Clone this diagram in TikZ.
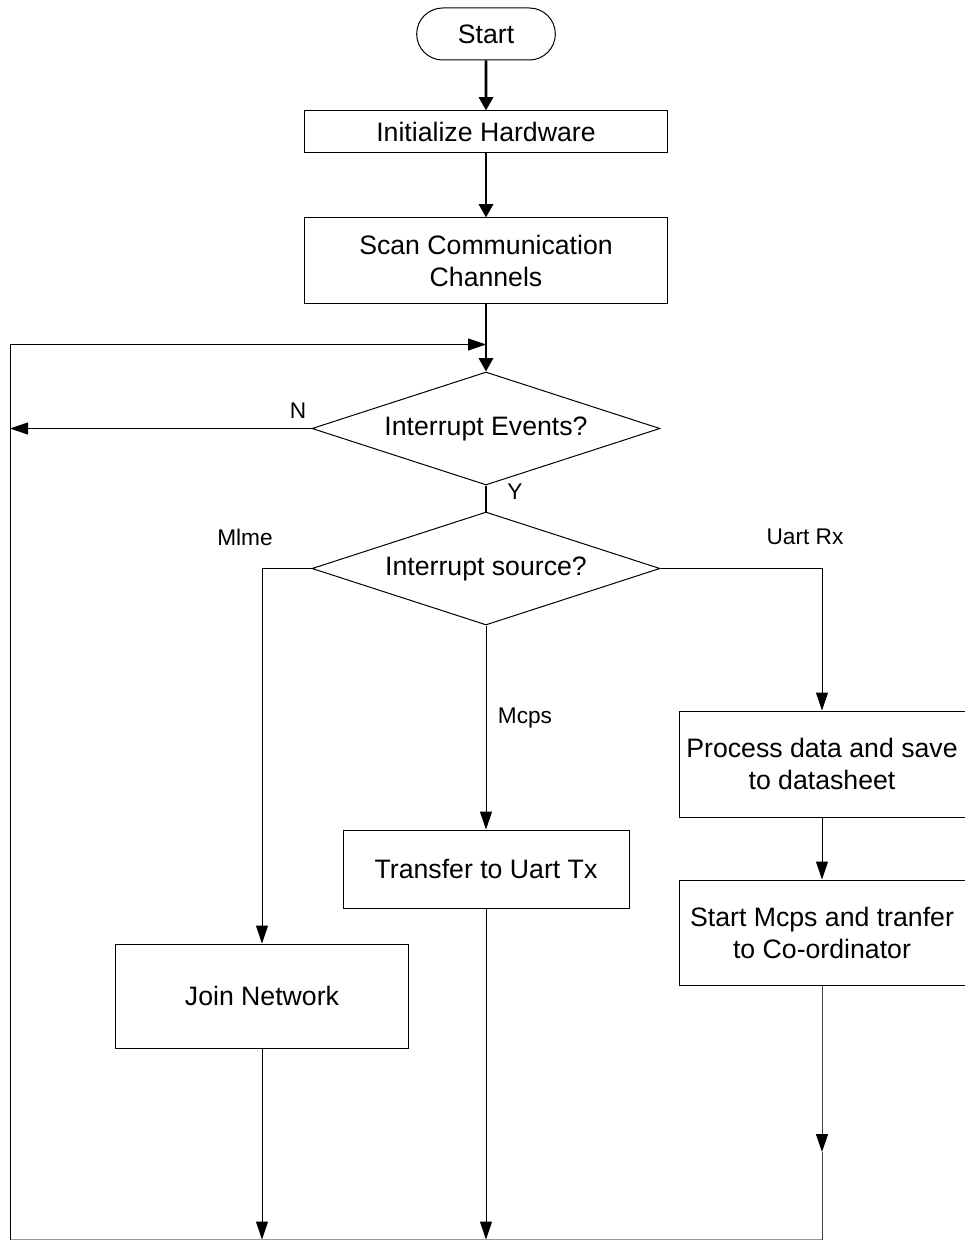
\documentclass[tikz,border=0pt]{standalone}
\usepackage{fontspec}
\setmainfont{Liberation Sans}
\usetikzlibrary{shapes.geometric, shapes.misc, arrows.meta}
\tikzset{
    box/.style={shape=rectangle, draw=black, line width=0.75pt, align=center, inner sep=0pt, font=\fontsize{20}{24}\selectfont},
    decision/.style={shape=diamond, draw=black, line width=0.75pt, aspect=3, inner sep=0pt, minimum width=261pt, minimum height=84.75pt, font=\fontsize{20}{24}\selectfont},
    terminal/.style={shape=rounded rectangle, draw=black, line width=0.75pt, inner sep=0pt, minimum width=104pt, minimum height=39pt, font=\fontsize{20}{24}\selectfont},
    branchtext/.style={font=\fontsize{17}{20}\selectfont, inner sep=0pt},
    flow/.style={line width=0.75pt, -{Triangle[length=13.5pt, width=9pt, color=black]}},
    mainflow/.style={line width=2.2pt, -{Triangle[length=10pt, width=10.5pt]}}}

\begin{document}
\begin{tikzpicture}[x=0.75pt, y=-0.75pt]
        \useasboundingbox (0,0) rectangle (964,1241);

            \node[terminal] (start) at (486,34) {Start};
            \node[box, minimum width=272.25pt, minimum height=31.5pt] (init) at (486,132) {Initialize Hardware};
            \node[box, minimum width=272.25pt, minimum height=63.75pt] (scan) at (486,260.5) {Scan Communication\\Channels};
            \node[decision] (events) at (486,428.5) {Interrupt Events?};
            \node[decision] (source) at (486,568.5) {Interrupt source?};
            \node[box, minimum width=219.75pt, minimum height=78pt] (join) at (262,996) {Join Network};
            \node[box, minimum width=214.5pt, minimum height=58.5pt] (transfer) at (486,869) {Transfer to Uart Tx};
            \node[box, minimum width=214.5pt, minimum height=79.5pt] (process) at (822,764) {Process data and save\\to datasheet};
            \node[box, minimum width=214.5pt, minimum height=78.75pt] (startmcps) at (822,932.5) {Start Mcps and tranfer\\to Co-ordinator};

            \node[branchtext] (lblN) at (298,411) {N};
            \node[branchtext] (lblY) at (515,492) {Y};
            \node[branchtext] (lblMlme) at (245,537) {Mlme};
            \node[branchtext] (lblUart) at (805,537) {Uart Rx};
            \node[branchtext] (lblMcps) at (525,718) {Mcps};

            \coordinate (merge) at (486,344.5);
            \coordinate (topL) at (10,344.5);
            \coordinate (nEnd) at (10,428.5);
            \coordinate (botL) at (10,1239.5);
            \coordinate (botJ) at (262,1239.5);
            \coordinate (botT) at (486,1239.5);
            \coordinate (midR) at (822,1152);
            \coordinate (botR) at (822,1239.5);

            \draw[mainflow] (start) -- (init);
            \draw[mainflow] (init) -- (scan);
            \draw[mainflow] (scan) -- (events);
            \draw[line width=2.2pt] (events) -- (source);
            \draw[flow] (events.west) -- (nEnd);
            \draw[flow] (source.west) -| (join.north);
            \draw[flow] (source.south) -- (transfer.north);
            \draw[flow] (source.east) -| (process.north);
            \draw[flow] (process) -- (startmcps);
            \draw[flow] (join) -- (botJ);
            \draw[flow] (transfer) -- (botT);
            \draw[flow, draw=black!75] (startmcps) -- (midR);
            \draw[line width=0.75pt, black!75] (midR) -- (botR);
            \draw[line width=0.75pt, black!40] (botR) -- (botL);
            \draw[flow] (botL) -- (topL) -- (merge);

        \end{tikzpicture}
\end{document}
